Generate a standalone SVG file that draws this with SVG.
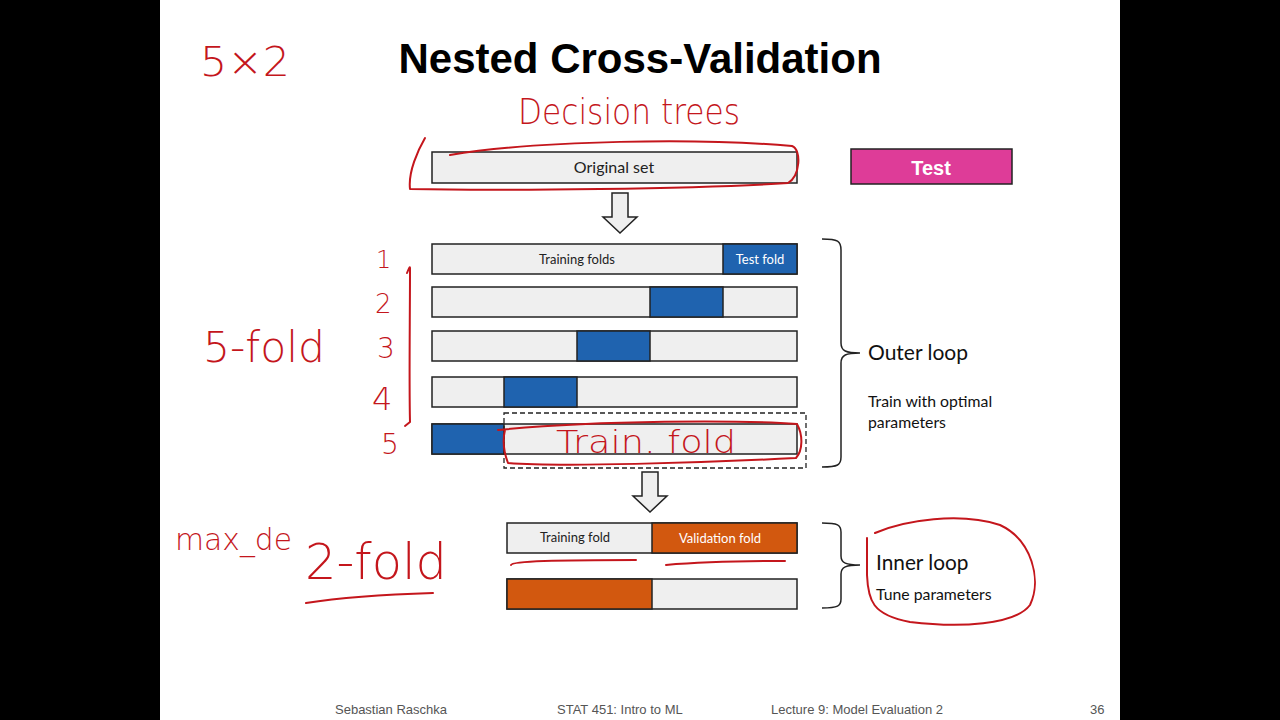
<svg xmlns="http://www.w3.org/2000/svg" width="1280" height="720" viewBox="0 0 1280 720">
<style>
.bar{fill:#efefef;stroke:#222;stroke-width:1.5}
.blue{fill:#1f63af;stroke:#222;stroke-width:1.5}
.orange{fill:#d2580f;stroke:#222;stroke-width:1.5}
.lbl{font-family:Lato,"Open Sans",sans-serif;font-size:13px;fill:#222;text-anchor:middle}
.wlbl{font-family:Lato,"Open Sans",sans-serif;font-size:13px;fill:#fff;text-anchor:middle}
.side{font-family:Lato,"Open Sans",sans-serif;fill:#111}
.foot{font-family:"Liberation Sans",Arial,sans-serif;font-size:13px;fill:#555}
.ink{fill:none;stroke:#c4161c;stroke-width:2;stroke-linecap:round;stroke-linejoin:round}
.hand{font-family:"DejaVu Sans",sans-serif;font-weight:200;fill:#c4161c}
.brace{fill:none;stroke:#222;stroke-width:1.5}
.arrow{fill:#efefef;stroke:#222;stroke-width:1.5}
</style>
<rect x="0" y="0" width="1280" height="720" fill="#000"/>
<rect x="160" y="0" width="960" height="720" fill="#fff"/>

<text x="640" y="73" font-family="'Liberation Sans',Arial,sans-serif" font-weight="bold" font-size="42" text-anchor="middle" fill="#000">Nested Cross-Validation</text>

<g id="original">
<rect class="bar" x="432" y="152" width="365" height="31"/>
<text x="614" y="173" font-family="Lato,'Open Sans',sans-serif" font-size="16" fill="#222" text-anchor="middle">Original set</text>
</g>
<g id="test">
<rect x="851" y="149" width="161" height="35" fill="#de3c98" stroke="#222" stroke-width="1.5"/>
<text x="931" y="175" font-family="'Liberation Sans',Arial,sans-serif" font-weight="bold" font-size="20" fill="#fff" text-anchor="middle">Test</text>
</g>

<g id="connectors">
<path class="arrow" d="M612,193 H628 V217 H637 L620,233 L603,217 H612 Z"/>
<path class="arrow" d="M642,472 H658 V496 H667 L650,512 L633,496 H642 Z"/>
<path class="brace" d="M822,239 C838,239 841,241 841,250 V343 C841,351 846,353 860,353 C846,353 841,355 841,363 V457 C841,465 838,467 822,467"/>
<path class="brace" d="M822,523 C838,523 841,525 841,532 V556 C841,563 846,565 860,565 C846,565 841,567 841,574 V599 C841,606 838,608 822,608"/>
</g>

<g id="fold1">
<rect class="bar" x="432" y="244" width="365" height="30"/>
<rect class="blue" x="723" y="244" width="74" height="30"/>
<text class="lbl" x="577" y="264">Training folds</text>
<text class="wlbl" x="760" y="264">Test fold</text>
</g>
<g id="fold2">
<rect class="bar" x="432" y="287" width="365" height="30"/>
<rect class="blue" x="650" y="287" width="73" height="30"/>
</g>
<g id="fold3">
<rect class="bar" x="432" y="331" width="365" height="30"/>
<rect class="blue" x="577" y="331" width="73" height="30"/>
</g>
<g id="fold4">
<rect class="bar" x="432" y="377" width="365" height="30"/>
<rect class="blue" x="504" y="377" width="73" height="30"/>
</g>
<g id="fold5">
<rect class="bar" x="432" y="424" width="365" height="30"/>
<rect class="blue" x="432" y="424" width="72" height="30"/>
<rect x="504" y="413" width="302" height="55" fill="none" stroke="#222" stroke-width="1.3" stroke-dasharray="5,3"/>
</g>

<g id="outer-label">
<text class="side" x="868" y="360" font-size="21">Outer loop</text>
<text class="side" x="868" y="407" font-size="15.8">Train with optimal</text>
<text class="side" x="868" y="428" font-size="15.8">parameters</text>
</g>

<g id="inner1">
<rect class="bar" x="507" y="523" width="290" height="30"/>
<rect class="orange" x="652" y="523" width="145" height="30"/>
<text class="lbl" x="575" y="542">Training fold</text>
<text class="wlbl" x="720" y="543">Validation fold</text>
</g>
<g id="inner2">
<rect class="bar" x="507" y="579" width="290" height="30"/>
<rect class="orange" x="507" y="579" width="145" height="30"/>
</g>

<g id="inner-label">
<text class="side" x="876" y="570" font-size="20.8">Inner loop</text>
<text class="side" x="876" y="600" font-size="15.8">Tune parameters</text>
</g>

<g id="footer">
<text class="foot" x="335" y="714">Sebastian Raschka</text>
<text class="foot" x="557" y="714">STAT 451: Intro to ML</text>
<text class="foot" x="771" y="714">Lecture 9: Model Evaluation 2</text>
<text class="foot" x="1090" y="714" font-size="14">36</text>
</g>

<g id="annotations">
<text class="hand" x="200" y="76" font-size="40" textLength="90" lengthAdjust="spacingAndGlyphs">5×2</text>
<text class="hand" x="518" y="124" font-size="36" textLength="222" lengthAdjust="spacingAndGlyphs">Decision trees</text>
<path class="ink" d="M450,155 C540,140 700,138 792,146 C802,150 800,176 788,183 C700,189 500,191 410,189 C408,172 418,150 425,138"/>
<text class="hand" x="376" y="268" font-size="24">1</text>
<text class="hand" x="375" y="313" font-size="26">2</text>
<text class="hand" x="377" y="358" font-size="28">3</text>
<text class="hand" x="372" y="410" font-size="32">4</text>
<text class="hand" x="381" y="454" font-size="28">5</text>
<path class="ink" d="M407,273 C409,268 410,266 410,268 C410,320 409,380 410,422 L405,426"/>
<text class="hand" x="203" y="362" font-size="42" textLength="122" lengthAdjust="spacingAndGlyphs">5-fold</text>
<text class="hand" x="556" y="453" font-size="32" textLength="180" lengthAdjust="spacingAndGlyphs">Train. fold</text>
<path class="ink" d="M498,430 C600,420 740,420 797,424 C803,435 803,450 796,458 C700,463 560,467 508,463 C503,450 503,438 505,430"/>
<text class="hand" x="175" y="550" font-size="30" textLength="117" lengthAdjust="spacingAndGlyphs">max_de</text>
<text class="hand" x="305" y="579" font-size="50" textLength="142" lengthAdjust="spacingAndGlyphs">2-fold</text>
<path class="ink" d="M306,603 C350,596 400,594 433,593"/>
<path class="ink" d="M511,565 C512,561 560,560 636,560"/>
<path class="ink" d="M666,565 C700,562 750,561 785,561"/>
<path class="ink" d="M875,533 C905,520 960,512 1000,525 C1032,540 1042,580 1030,605 C1015,625 960,628 910,622 C872,615 868,600 867,575 L867,538"/>
</g>
</svg>
